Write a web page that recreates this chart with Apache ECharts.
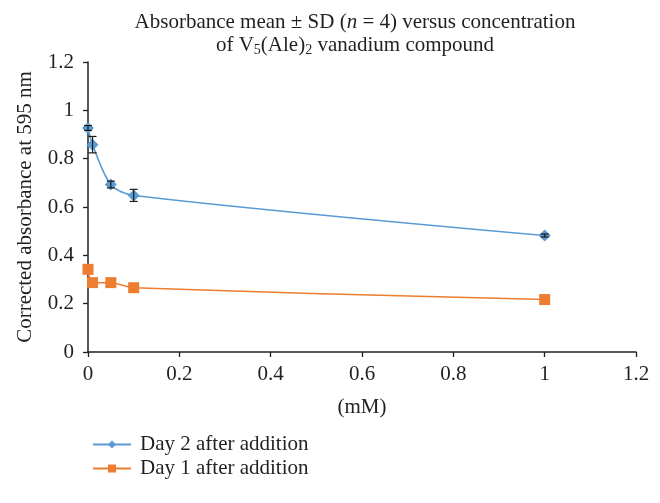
<!DOCTYPE html>
<html><head><meta charset="utf-8">
<script src="https://cdn.jsdelivr.net/npm/echarts@6/dist/echarts.min.js"></script>
<style>html,body{margin:0;padding:0;background:#fff}#c{width:660px;height:503px}</style>
</head><body><div id="c"></div>
<script>
const conc = [0, 0.01, 0.05, 0.1, 1];
const day2 = [0.927, 0.858, 0.693, 0.648, 0.482];
const day2Sd = [0.010, 0.034, 0.014, 0.025, 0.006];
const day1 = [0.342, 0.287, 0.287, 0.266, 0.217];
const xTicks = [0, 0.2, 0.4, 0.6, 0.8, 1, 1.2];
const yTicks = [0, 0.2, 0.4, 0.6, 0.8, 1, 1.2];
const seriesNames = ['Day 2 after addition', 'Day 1 after addition'];

const FONT = '"Liberation Serif", "DejaVu Serif", serif';
const FS = 21;
const TXT = '#231f20';
const chart = echarts.init(document.getElementById('c'), null, {renderer: 'canvas'});

function errData(vals, sds) {
  return conc.map((x, i) => [x, vals[i] - sds[i], vals[i] + sds[i]]);
}
function errRender(params, api) {
  const x = api.value(0);
  const lo = api.coord([x, api.value(1)]);
  const hi = api.coord([x, api.value(2)]);
  const cw = 4;
  const st = {stroke: '#1a1a1a', lineWidth: 1.2};
  return {type: 'group', children: [
    {type: 'line', shape: {x1: lo[0], y1: lo[1], x2: hi[0], y2: hi[1]}, style: st},
    {type: 'line', shape: {x1: lo[0]-cw, y1: lo[1], x2: lo[0]+cw, y2: lo[1]}, style: st},
    {type: 'line', shape: {x1: hi[0]-cw, y1: hi[1], x2: hi[0]+cw, y2: hi[1]}, style: st}
  ]};
}
const tickFmt = ticks => v => { const t = ticks.find(k => Math.abs(k - v) < 1e-9); return t === undefined ? '' : String(t); };

chart.setOption({
  animation: false,
  backgroundColor: '#fff',
  textStyle: {fontFamily: FONT},
  title: {
    left: 350, top: 6, textAlign: 'center',
    text: '{t|Absorbance mean ± SD (}{i|n}{t| = 4) versus concentration}\n{t|of V}{s|5}{t|(Ale)}{s|2}{t| vanadium compound}',
    textStyle: {
      fontFamily: FONT, fontSize: FS, color: TXT, fontWeight: 'normal', lineHeight: 23,
      rich: {
        t: {fontFamily: FONT, fontSize: FS, color: TXT, lineHeight: 23},
        i: {fontFamily: FONT, fontSize: FS, color: TXT, fontStyle: 'italic', lineHeight: 23},
        s: {fontFamily: FONT, fontSize: 14, color: TXT, lineHeight: 23, padding: [10, 0, 0, 0]}
      }
    }
  },
  legend: {
    orient: 'vertical', left: 87, top: 429, itemGap: 3, itemWidth: 38, itemHeight: 10,
    data: seriesNames,
    textStyle: {fontFamily: FONT, fontSize: FS, color: TXT, padding: [0, 0, 0, 4]}
  },
  grid: {left: 88, right: 24, top: 62, bottom: 151, containLabel: false},
  xAxis: {
    type: 'value', min: 0, max: 1.2, interval: 0.2,
    name: '(mM)', nameLocation: 'middle', nameGap: 45,
    nameTextStyle: {fontFamily: FONT, fontSize: FS, color: TXT},
    axisLine: {lineStyle: {color: TXT, width: 1.5}},
    axisTick: {show: true, length: 5, inside: false, lineStyle: {color: TXT, width: 1.3}},
    axisLabel: {fontFamily: FONT, fontSize: FS, color: TXT, margin: 12, formatter: tickFmt(xTicks)},
    splitLine: {show: false}
  },
  yAxis: {
    type: 'value', min: 0, max: 1.2, interval: 0.2,
    name: 'Corrected absorbance at 595 nm', nameLocation: 'middle', nameGap: 52, nameRotate: 90,
    nameTextStyle: {fontFamily: FONT, fontSize: FS, color: TXT},
    axisLine: {show: true, lineStyle: {color: TXT, width: 1.5}},
    axisTick: {show: true, length: 5, inside: false, lineStyle: {color: TXT, width: 1.3}},
    axisLabel: {fontFamily: FONT, fontSize: FS, color: TXT, margin: 14, formatter: tickFmt(yTicks)},
    splitLine: {show: false}
  },
  series: [
    {
      name: seriesNames[0], type: 'line', smooth: 0.3,
      data: conc.map((x, i) => [x, day2[i]]),
      symbol: 'diamond', symbolSize: 12,
      lineStyle: {color: '#5b9bd5', width: 1.5},
      itemStyle: {color: '#5b9bd5'}, z: 3
    },
    {
      name: seriesNames[1], type: 'line', smooth: 0.3,
      data: conc.map((x, i) => [x, day1[i]]),
      symbol: 'rect', symbolSize: 11,
      lineStyle: {color: '#ed7d31', width: 1.5},
      itemStyle: {color: '#ed7d31'}, z: 3
    },
    {
      type: 'custom', name: 'err2', renderItem: errRender,
      data: errData(day2, day2Sd), encode: {x: 0, y: [1, 2]}, z: 4, silent: true
    }
  ]
});
</script></body></html>
